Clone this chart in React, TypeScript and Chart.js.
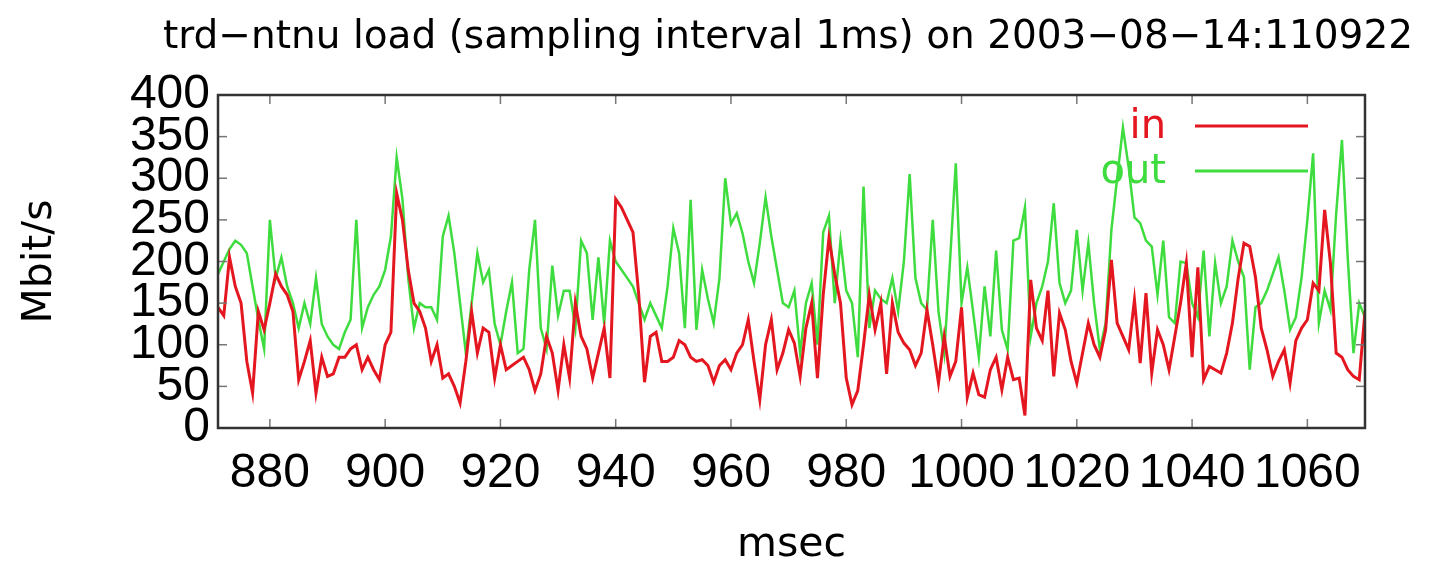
import React, { useEffect, useRef } from "react";
import { Chart, registerables } from "chart.js";

Chart.register(...registerables);

const TITLE = "trd\u2212ntnu load (sampling interval 1ms) on 2003\u221208\u221214:110922";
const X_TITLE = "msec";
const Y_TITLE = "Mbit/s";
const START_MS = 871;
const END_MS = 1070;

const xTicks = [880, 900, 920, 940, 960, 980, 1000, 1020, 1040, 1060];
const yTicks = [0, 50, 100, 150, 200, 250, 300, 350, 400];

const seriesNames = ["in", "out"];

// Mbit/s, one sample per ms from 871 to 1070
const inLoad = [
  145, 135, 205, 170, 150, 80, 42, 140, 118, 150, 185, 170, 160, 140, 58, 80, 105, 42, 85, 62, 65,
  85, 85, 95, 100, 70, 85, 70, 58, 100, 115, 282, 250, 190, 150, 140, 120, 80, 100, 60, 65,
  50, 30, 80, 140, 90, 120, 115, 60, 100, 70, 75, 80, 85, 70, 45, 65, 110, 90, 45, 100,
  60, 150, 110, 95, 60, 90, 120, 60, 275, 265, 250, 235, 160, 55, 110, 115, 80, 80, 85, 105,
  100, 85, 80, 82, 75, 55, 75, 82, 70, 90, 100, 130, 80, 34, 100, 130, 70, 90, 118, 102,
  62, 120, 150, 60, 160, 228, 185, 150, 60, 28, 45, 100, 160, 118, 150, 65, 150, 115, 102, 94,
  75, 90, 142, 100, 54, 110, 62, 80, 145, 37, 66, 40, 37, 70, 85, 46, 85, 58, 60, 15,
  178, 120, 105, 165, 62, 138, 118, 80, 54, 90, 126, 100, 85, 118, 202, 126, 110, 94, 154, 78,
  162, 66, 118, 100, 70, 110, 150, 198, 85, 193, 58, 74, 70, 66, 90, 126, 180, 222, 218, 181,
  120, 94, 62, 80, 94, 54, 105, 120, 130, 174, 165, 262, 198, 90, 85, 70, 62, 58, 140,
];

const outLoad = [
  185, 200, 215, 225, 220, 210, 170, 130, 95, 250, 180, 205, 170, 150, 120, 150, 125, 180, 125, 110, 100,
  95, 115, 130, 250, 120, 145, 160, 170, 190, 230, 325, 275, 180, 120, 150, 145, 145, 130, 230, 255,
  210, 150, 90, 150, 210, 175, 190, 125, 100, 140, 175, 90, 95, 190, 250, 120, 95, 195, 135, 165,
  165, 120, 225, 210, 130, 205, 125, 225, 200, 190, 180, 170, 150, 130, 150, 135, 120, 170, 240, 210,
  120, 274, 118, 190, 155, 126, 180, 300, 245, 258, 234, 200, 174, 222, 277, 230, 190, 150, 145, 165,
  90, 150, 174, 100, 235, 255, 150, 225, 165, 150, 85, 290, 120, 165, 155, 150, 180, 140, 200, 305,
  180, 150, 142, 250, 140, 90, 200, 318, 150, 193, 140, 85, 170, 110, 213, 118, 94, 225, 228, 265,
  110, 150, 170, 200, 270, 174, 150, 165, 238, 165, 222, 150, 94, 126, 238, 300, 361, 313, 253, 246,
  225, 218, 160, 225, 133, 126, 200, 198, 150, 133, 213, 110, 198, 150, 170, 225, 200, 181, 70, 145,
  150, 165, 185, 205, 165, 118, 133, 181, 250, 330, 126, 165, 142, 258, 346, 205, 90, 150, 133,
];

const msec = inLoad.map((_, i) => START_MS + i);

const RED = "#e4161f";
const GREEN = "#3fdc3f";
const FONT = '"DejaVu Sans", "Liberation Sans", sans-serif';
const TICK_FONT = '"Liberation Sans", Arial, sans-serif';

const decorPlugin = {
  id: "decor",
  afterDraw(chart: any) {
    const { ctx, chartArea: a } = chart;
    const xs = chart.scales.x;
    const ys = chart.scales.y;
    ctx.save();
    const seg = (x1: number, y1: number, x2: number, y2: number) => {
      ctx.beginPath();
      ctx.moveTo(x1, y1);
      ctx.lineTo(x2, y2);
      ctx.stroke();
    };
    // inward tick marks
    ctx.strokeStyle = "#777";
    ctx.lineWidth = 1.5;
    xTicks.forEach((v) => {
      const px = xs.getPixelForValue(v);
      seg(px, a.bottom, px, a.bottom - 9);
      seg(px, a.top, px, a.top + 9);
    });
    yTicks.forEach((v) => {
      const py = ys.getPixelForValue(v);
      seg(a.left, py, a.left + 9, py);
      seg(a.right, py, a.right - 9, py);
    });
    // frame
    ctx.strokeStyle = "#333";
    ctx.lineWidth = 2.5;
    ctx.strokeRect(a.left, a.top, a.right - a.left, a.bottom - a.top);

    // legend (text left of sample line)
    const ds = chart.data.datasets;
    const legendY = [a.top + 31, a.top + 76];
    ds.forEach((d: any, i: number) => {
      ctx.fillStyle = d.borderColor;
      ctx.font = `40px ${FONT}`;
      ctx.textAlign = "right";
      ctx.textBaseline = "middle";
      ctx.fillText(d.label, a.left + 948, legendY[i] + 2);
      ctx.strokeStyle = d.borderColor;
      ctx.lineWidth = 3;
      seg(a.left + 977, legendY[i], a.left + 1090, legendY[i]);
    });

    // titles
    ctx.fillStyle = "#000";
    ctx.textAlign = "center";
    ctx.textBaseline = "middle";
    ctx.font = `39px ${FONT}`;
    ctx.fillText(TITLE, 788, 38);
    ctx.font = `41px ${FONT}`;
    ctx.fillText(X_TITLE, (a.left + a.right) / 2, 545);
    ctx.save();
    ctx.translate(40, (a.top + a.bottom) / 2);
    ctx.rotate(-Math.PI / 2);
    ctx.fillText(Y_TITLE, 0, 0);
    ctx.restore();
    ctx.restore();
  },
};

export default function App() {
  const canvasRef = useRef<HTMLCanvasElement | null>(null);

  useEffect(() => {
    document.body.style.margin = "0";
    const canvas = canvasRef.current;
    if (!canvas) return;
    const chart = new Chart(canvas, {
      type: "line",
      data: {
        datasets: [
          {
            label: seriesNames[0],
            data: msec.map((m, i) => ({ x: m, y: inLoad[i] })),
            borderColor: RED,
            backgroundColor: RED,
            borderWidth: 3,
            pointRadius: 0,
            tension: 0,
          },
          {
            label: seriesNames[1],
            data: msec.map((m, i) => ({ x: m, y: outLoad[i] })),
            borderColor: GREEN,
            backgroundColor: GREEN,
            borderWidth: 2.5,
            pointRadius: 0,
            tension: 0,
          },
        ],
      },
      options: {
        responsive: false,
        animation: false,
        devicePixelRatio: 1,
        layout: { padding: { left: 0, right: 66, top: 95, bottom: 0 } },
        plugins: {
          legend: { display: false },
          title: { display: false },
          tooltip: { enabled: false },
        },
        scales: {
          x: {
            type: "linear",
            min: START_MS,
            max: END_MS,
            afterBuildTicks: (s: any) => {
              s.ticks = xTicks.map((v) => ({ value: v }));
            },
            afterFit: (s: any) => {
              s.height = 136;
            },
            grid: { display: false, drawTicks: false },
            border: { display: false },
            ticks: {
              color: "#000",
              font: { family: TICK_FONT, size: 48 },
              padding: 17,
              maxRotation: 0,
              autoSkip: false,
              callback: (v: any) => String(v),
            },
          },
          y: {
            type: "linear",
            min: 0,
            max: 400,
            afterBuildTicks: (s: any) => {
              s.ticks = yTicks.map((v) => ({ value: v }));
            },
            afterFit: (s: any) => {
              s.width = 218;
            },
            grid: { display: false, drawTicks: false },
            border: { display: false },
            ticks: {
              color: "#000",
              font: { family: TICK_FONT, size: 48 },
              padding: 8,
              autoSkip: false,
              callback: (v: any) => String(v),
            },
          },
        },
      },
      plugins: [decorPlugin],
    });
    return () => chart.destroy();
  }, []);

  return (
    <div style={{ position: "absolute", left: 0, top: 0, width: 1431, height: 564, background: "#fff" }}>
      <canvas ref={canvasRef} width={1431} height={564} />
    </div>
  );
}
